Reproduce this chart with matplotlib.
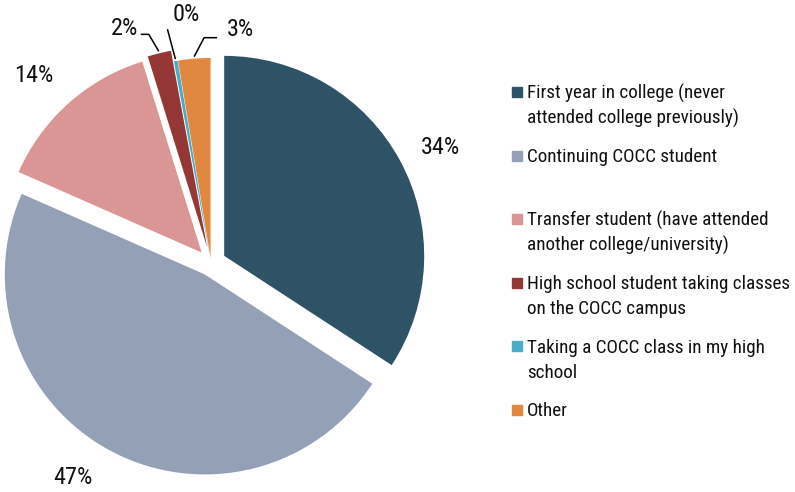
import matplotlib.pyplot as plt
from matplotlib.patches import Rectangle
import numpy as np

plt.rcParams['font.family'] = ['Roboto Condensed', 'DejaVu Sans']

# Student type shares (percent)
categories = [
    "First year in college (never\nattended college previously)",
    "Continuing COCC student",
    "Transfer student (have attended\nanother college/university)",
    "High school student taking classes\non the COCC campus",
    "Taking a COCC class in my high\nschool",
    "Other",
]
shares = [34.2, 47.4, 13.6, 1.9, 0.3, 2.6]
colors = ["#2E5366", "#94A0B6", "#DA9694", "#953735", "#4BACC6", "#E0883F"]

W, H = 795, 492
fig = plt.figure(figsize=(W / 100, H / 100), dpi=100)

# pie centre and radius in pixels
cx, cy, R = 211, 263, 200


def px(x, y):
    # pixel position (from top-left) -> pie data coordinates
    return (x - cx) / R, (cy - y) / R


ax = fig.add_axes([0, 0, 1, 1])
explode = [0.075, 0.065, 0.07, 0.08, 0.025, 0.025]
wedges, _ = ax.pie(shares, colors=colors, startangle=90, counterclock=False,
                   explode=explode, radius=1, wedgeprops=dict(linewidth=0))
ax.set_xlim(-cx / R, (W - cx) / R)
ax.set_ylim(-(H - cy) / R, cy / R)
ax.set_aspect('equal')
ax.axis('off')

# label placement: (angle in degrees, radius from pie centre)
label_pos = [(26.6, 1.286), (-122.7, 1.277), (133.3, 1.291),
             (110.1, 1.251), (95.7, 1.251), (82.9, 1.179)]
for v, (ang, r) in zip(shares, label_pos):
    a = np.deg2rad(ang)
    ax.text(r * np.cos(a), r * np.sin(a), f"{round(v)}%", ha='center',
            va='center', fontsize=17.5, color='#111111')

# leader lines for the small slices: start on the slice edge,
# bend (in pixels) and run towards the label
bends = {3: [(-10, -17), (-18, -17)], 4: [(-8, -30)], 5: [(10, -19), (23, -19)]}
for i, steps in bends.items():
    w = wedges[i]
    mid = np.deg2rad((w.theta1 + w.theta2) / 2)
    ox, oy = w.center
    x0, y0 = ox + 1.01 * np.cos(mid), oy + 1.01 * np.sin(mid)
    xs, ys = [x0], [y0]
    for dx, dy in steps:
        xs.append(x0 + dx / R)
        ys.append(y0 - dy / R)
    ax.plot(xs, ys, color='black', lw=1.1, solid_capstyle='butt')

# legend, drawn entry by entry
y_first, step = 92, 63.6
for k, (lab, col) in enumerate(zip(categories, colors)):
    yc = y_first + k * step
    fig.patches.append(Rectangle((511.5 / W, 1 - (yc + 5) / H), 10 / W, 10 / H,
                                 transform=fig.transFigure, color=col))
    for j, line in enumerate(lab.split("\n")):
        fig.text(527 / W, 1 - (yc + 6.5 + j * 25) / H, line, ha='left',
                 va='baseline', fontsize=13.8, color='#111111')

fig.savefig("out.png", dpi=100)
